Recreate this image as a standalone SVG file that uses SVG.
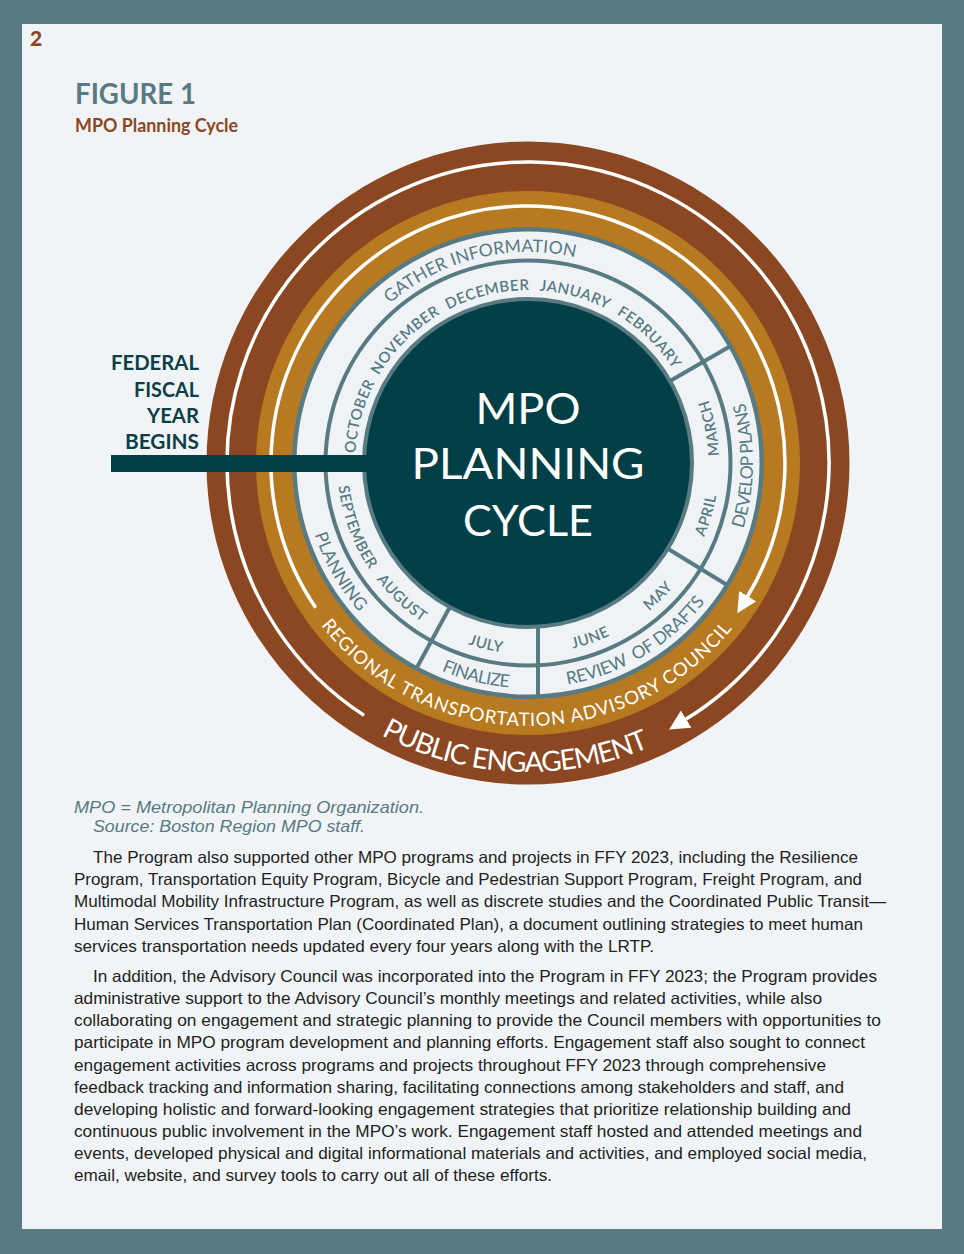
<svg xmlns="http://www.w3.org/2000/svg" width="964" height="1254" viewBox="0 0 964 1254">
<style>
.mo{font-family:Lato,"Noto Sans",sans-serif;font-size:15px;font-weight:600;fill:#587a82;letter-spacing:0.5px}
.ph{font-family:Lato,"Noto Sans",sans-serif;font-size:17.5px;font-weight:400;fill:#587a82}
.wt{font-family:Lato,"Noto Sans",sans-serif;fill:#ffffff}
.body{font-family:"Liberation Sans",Arial,sans-serif;font-size:16.5px;fill:#231f20}
.cap{font-family:"Liberation Sans",Arial,sans-serif;font-size:16.5px;font-style:italic;fill:#587a82}
.fed{font-family:Lato,"Noto Sans",sans-serif;font-size:21px;font-weight:700;fill:#0d3f47}
.div{stroke:#587a82;stroke-width:4}
.warc{fill:none;stroke:#ffffff;stroke-width:3.5}
</style>
<defs>
<path id="p173" d="M355,463 A173,173 0 0 1 701,463"/>
<path id="p211" d="M317,463 A211,211 0 0 1 739,463"/>
<path id="p191" d="M337,463 A191,191 0 0 0 719,463"/>
<path id="p225" d="M303,463 A225,225 0 0 0 753,463"/>
<path id="p263" d="M265,463 A263,263 0 0 0 791,463"/>
<path id="p309" d="M219,463 A309,309 0 0 0 837,463"/>
<marker id="ah" viewBox="0 0 20 20" refX="1" refY="10" markerWidth="20" markerHeight="20" markerUnits="userSpaceOnUse" orient="auto">
<path d="M0,0 L20,10 L0,20 z" fill="#ffffff"/>
</marker>
</defs>
<rect x="0" y="0" width="964" height="1254" fill="#587a80"/>
<rect x="22" y="24" width="920" height="1205" fill="#f1f4f6"/>
<text x="30" y="46" style="font-family:Lato,'Liberation Sans',sans-serif;font-size:21px;font-weight:900;fill:#8b4722">2</text>
<g id="title">
<text x="75" y="104" textLength="121" lengthAdjust="spacingAndGlyphs" style="font-family:Lato,'Liberation Sans',sans-serif;font-size:29px;font-weight:700;fill:#587a82">FIGURE 1</text>
<text x="75" y="132" textLength="163" lengthAdjust="spacingAndGlyphs" style="font-family:Lato,'Liberation Sans',sans-serif;font-size:18px;font-weight:700;fill:#8b4722">MPO Planning Cycle</text>
</g>
<g id="rings">
<circle cx="528" cy="463" r="321.5" fill="#8b4722"/>
<circle cx="528" cy="463" r="272" fill="#b87a20"/>
<circle cx="528" cy="463" r="236" fill="#587a82"/>
<circle cx="528" cy="463" r="231.5" fill="#eff3f5"/>
<circle cx="528" cy="463" r="204.5" fill="#587a82"/>
<circle cx="528" cy="463" r="200.5" fill="#eff3f5"/>
<circle cx="528" cy="463" r="166" fill="#587a82"/>
<circle cx="528" cy="463" r="162" fill="#033f46"/>
<line class="div" x1="670.9" y1="380.5" x2="729.8" y2="346.5"/>
<line class="div" x1="668.7" y1="549.2" x2="726.7" y2="584.7"/>
<line class="div" x1="538" y1="627" x2="538" y2="698"/>
<line class="div" x1="449.3" y1="608" x2="416.8" y2="667.8"/>
</g>
<g id="connectors">
<path class="warc" d="M364.1,715.4 A301,301 0 1 1 685.3,719.6" marker-end="url(#ah)"/>
<path class="warc" d="M315.7,607.8 A257,257 0 1 1 747.2,597" marker-end="url(#ah)"/>
</g>
<g id="fiscal-year">
<rect x="111" y="455" width="262" height="17" fill="#033f46"/>
<text class="fed" x="199" y="370" text-anchor="end" textLength="88" lengthAdjust="spacingAndGlyphs">FEDERAL</text>
<text class="fed" x="199" y="397" text-anchor="end" textLength="65" lengthAdjust="spacingAndGlyphs">FISCAL</text>
<text class="fed" x="199" y="423" text-anchor="end" textLength="52" lengthAdjust="spacingAndGlyphs">YEAR</text>
<text class="fed" x="199" y="449" text-anchor="end" textLength="74" lengthAdjust="spacingAndGlyphs">BEGINS</text>
</g>
<g id="center">
<text class="wt" x="528" y="424" text-anchor="middle" font-size="42" textLength="105" lengthAdjust="spacingAndGlyphs">MPO</text>
<text class="wt" x="528" y="479" text-anchor="middle" font-size="42" textLength="233" lengthAdjust="spacingAndGlyphs">PLANNING</text>
<text class="wt" x="528" y="536" text-anchor="middle" font-size="42" textLength="130" lengthAdjust="spacingAndGlyphs">CYCLE</text>
</g>
<g id="months">
<text class="mo" transform="rotate(-74.5 528 463)"><textPath href="#p173" startOffset="50%" text-anchor="middle">OCTOBER</textPath></text>
<text class="mo" transform="rotate(-45 528 463)"><textPath href="#p173" startOffset="50%" text-anchor="middle">NOVEMBER</textPath></text>
<text class="mo" transform="rotate(-13.5 528 463)"><textPath href="#p173" startOffset="50%" text-anchor="middle">DECEMBER</textPath></text>
<text class="mo" transform="rotate(15.6 528 463)"><textPath href="#p173" startOffset="50%" text-anchor="middle">JANUARY</textPath></text>
<text class="mo" transform="rotate(44 528 463)"><textPath href="#p173" startOffset="50%" text-anchor="middle">FEBRUARY</textPath></text>
<text class="mo" transform="rotate(-100.8 528 463)"><textPath href="#p191" startOffset="50%" text-anchor="middle">MARCH</textPath></text>
<text class="mo" transform="rotate(-73.7 528 463)"><textPath href="#p191" startOffset="50%" text-anchor="middle">APRIL</textPath></text>
<text class="mo" transform="rotate(-44.4 528 463)"><textPath href="#p191" startOffset="50%" text-anchor="middle">MAY</textPath></text>
<text class="mo" transform="rotate(-19.6 528 463)"><textPath href="#p191" startOffset="50%" text-anchor="middle">JUNE</textPath></text>
<text class="mo" transform="rotate(13 528 463)"><textPath href="#p191" startOffset="50%" text-anchor="middle">JULY</textPath></text>
<text class="mo" transform="rotate(43 528 463)"><textPath href="#p191" startOffset="50%" text-anchor="middle">AUGUST</textPath></text>
<text class="mo" transform="rotate(69.5 528 463)"><textPath href="#p191" startOffset="50%" text-anchor="middle">SEPTEMBER</textPath></text>
</g>
<g id="phases">
<text class="ph" transform="rotate(-14 528 463)"><textPath href="#p211" startOffset="50%" text-anchor="middle" textLength="198">GATHER INFORMATION</textPath></text>
<text class="ph" transform="rotate(-89.3 528 463)"><textPath href="#p225" startOffset="50%" text-anchor="middle" textLength="128">DEVELOP PLANS</textPath></text>
<text class="ph" transform="rotate(-31 528 463)"><textPath href="#p225" startOffset="50%" text-anchor="middle" textLength="164">REVIEW&#160; OF DRAFTS</textPath></text>
<text class="ph" transform="rotate(13.7 528 463)"><textPath href="#p225" startOffset="50%" text-anchor="middle" textLength="70">FINALIZE</textPath></text>
<text class="ph" transform="rotate(60 528 463)"><textPath href="#p225" startOffset="50%" text-anchor="middle" textLength="90">PLANNING</textPath></text>
</g>
<g id="advisory-council">
<text class="wt" font-size="18.5" transform="rotate(0.5 528 463)"><textPath href="#p263" startOffset="50%" text-anchor="middle" textLength="472">REGIONAL TRANSPORTATION ADVISORY COUNCIL</textPath></text>
</g>
<g id="public-engagement">
<text class="wt" font-size="28" transform="rotate(2.6 528 463)"><textPath href="#p309" startOffset="50%" text-anchor="middle" textLength="278">PUBLIC ENGAGEMENT</textPath></text>
</g>
<g id="caption">
<text class="cap" x="74" y="813" textLength="350" lengthAdjust="spacingAndGlyphs">MPO = Metropolitan Planning Organization.</text>
<text class="cap" x="93" y="832" textLength="272" lengthAdjust="spacingAndGlyphs">Source: Boston Region MPO staff.</text>
</g>
<g id="paragraph-1">
<text class="body" x="93" y="863" textLength="765" lengthAdjust="spacingAndGlyphs">The Program also supported other MPO programs and projects in FFY 2023, including the Resilience</text>
<text class="body" x="74" y="885" textLength="788" lengthAdjust="spacingAndGlyphs">Program, Transportation Equity Program, Bicycle and Pedestrian Support Program, Freight Program, and</text>
<text class="body" x="74" y="907" textLength="812" lengthAdjust="spacingAndGlyphs">Multimodal Mobility Infrastructure Program, as well as discrete studies and the Coordinated Public Transit—</text>
<text class="body" x="74" y="930" textLength="789" lengthAdjust="spacingAndGlyphs">Human Services Transportation Plan (Coordinated Plan), a document outlining strategies to meet human</text>
<text class="body" x="74" y="952" textLength="580" lengthAdjust="spacingAndGlyphs">services transportation needs updated every four years along with the LRTP.</text>
</g>
<g id="paragraph-2">
<text class="body" x="93" y="982" textLength="784" lengthAdjust="spacingAndGlyphs">In addition, the Advisory Council was incorporated into the Program in FFY 2023; the Program provides</text>
<text class="body" x="74" y="1004" textLength="748" lengthAdjust="spacingAndGlyphs">administrative support to the Advisory Council’s monthly meetings and related activities, while also</text>
<text class="body" x="74" y="1026" textLength="807" lengthAdjust="spacingAndGlyphs">collaborating on engagement and strategic planning to provide the Council members with opportunities to</text>
<text class="body" x="74" y="1048" textLength="791" lengthAdjust="spacingAndGlyphs">participate in MPO program development and planning efforts. Engagement staff also sought to connect</text>
<text class="body" x="74" y="1071" textLength="752" lengthAdjust="spacingAndGlyphs">engagement activities across programs and projects throughout FFY 2023 through comprehensive</text>
<text class="body" x="74" y="1093" textLength="770" lengthAdjust="spacingAndGlyphs">feedback tracking and information sharing, facilitating connections among stakeholders and staff, and</text>
<text class="body" x="74" y="1115" textLength="777" lengthAdjust="spacingAndGlyphs">developing holistic and forward-looking engagement strategies that prioritize relationship building and</text>
<text class="body" x="74" y="1137" textLength="788" lengthAdjust="spacingAndGlyphs">continuous public involvement in the MPO’s work. Engagement staff hosted and attended meetings and</text>
<text class="body" x="74" y="1159" textLength="793" lengthAdjust="spacingAndGlyphs">events, developed physical and digital informational materials and activities, and employed social media,</text>
<text class="body" x="74" y="1181" textLength="478" lengthAdjust="spacingAndGlyphs">email, website, and survey tools to carry out all of these efforts.</text>
</g>
</svg>
